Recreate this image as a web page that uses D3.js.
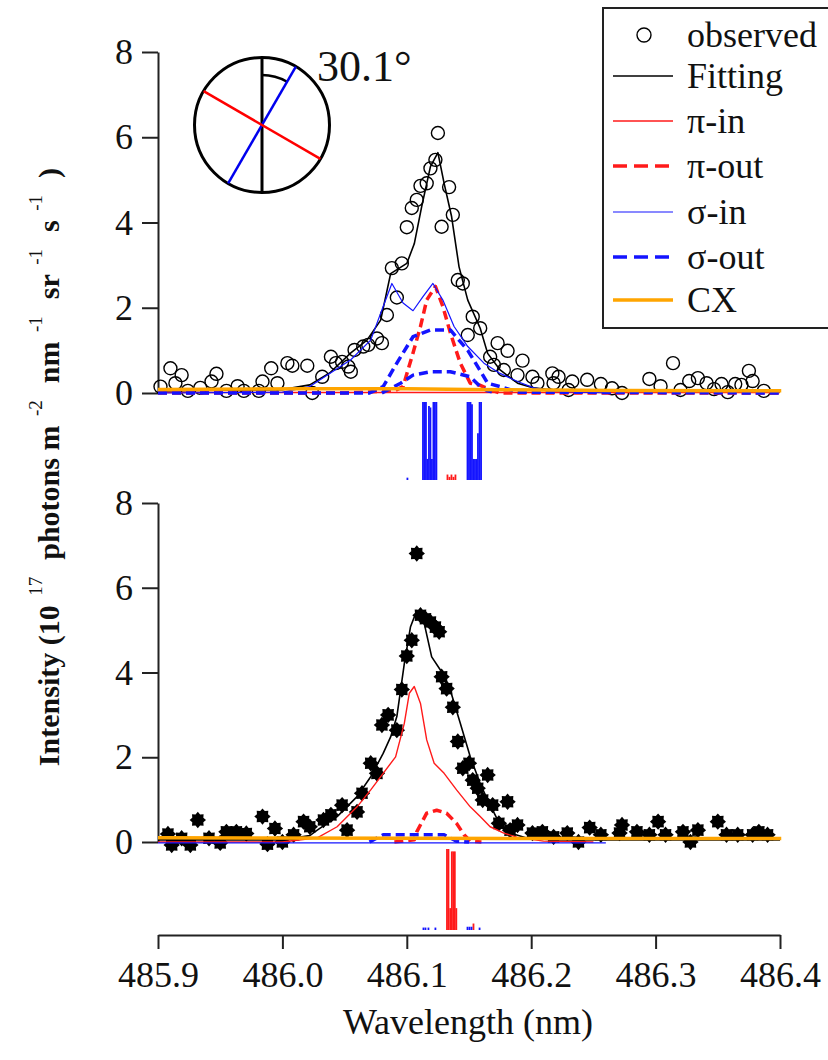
<!DOCTYPE html>
<html>
<head>
<meta charset="utf-8">
<script src="https://cdn.jsdelivr.net/npm/d3@7"></script>
<style>
  body { margin: 0; background: #fff; }
  svg { display: block; }
  text { font-family: "Liberation Serif", "Times New Roman", serif; fill: #111; }
</style>
</head>
<body>
<script>
// ---- data (wavelength nm, intensity 1e17) ----
var xTicks = [485.9, 486.0, 486.1, 486.2, 486.3, 486.4];
var yTicks = [0, 2, 4, 6, 8];
var legendLabels = ["observed", "Fitting", "π-in", "π-out", "σ-in", "σ-out", "CX"];
var angleLabel = "30.1°";
var angleDeg = 30.1;

// top panel observed
var topObsWl = [485.902,485.910,485.914,485.919,485.924,485.934,485.943,485.947,485.955,485.964,485.969,485.981,485.984,485.991,485.996,
  486.004,486.008,486.020,486.024,486.032,486.039,486.043,486.048,486.053,486.055,486.058,486.065,486.069,486.076,486.080,486.084,
  486.088,486.092,486.096,486.100,486.104,486.108,486.111,486.116,486.119,486.123,486.125,486.128,486.134,486.137,486.141,486.145,
  486.149,486.153,486.159,486.167,486.170,486.173,486.178,486.181,486.189,486.193,486.201,486.205,486.217,486.218,486.222,486.230,
  486.233,486.245,486.256,486.265,486.273,486.295,486.304,486.314,486.320,486.327,486.334,486.341,486.347,486.353,486.358,486.364,
  486.369,486.375,486.378,486.387];
var topObsVal = [0.15,0.58,0.23,0.42,0.05,0.12,0.27,0.45,0.05,0.16,0.05,0.05,0.27,0.58,0.23,
  0.70,0.64,0.64,0.00,0.38,0.85,0.70,0.73,0.62,0.50,1.01,1.09,1.13,1.28,1.17,1.83,
  2.93,2.24,3.04,3.89,4.34,4.53,4.86,4.92,5.27,5.47,6.10,3.90,4.83,4.18,2.65,2.57,
  1.36,1.79,1.52,0.85,0.66,1.17,0.54,0.99,0.42,0.76,0.38,0.23,0.46,0.23,0.38,0.07,
  0.27,0.31,0.21,0.11,0.00,0.33,0.16,0.70,0.07,0.28,0.35,0.23,0.09,0.21,0.02,0.21,
  0.19,0.52,0.28,0.05];

// top panel curves [wl, value]
var topFit = [[485.900,0.05],[486.000,0.08],[486.022,0.19],[486.038,0.47],[486.055,0.94],[486.068,1.24],[486.079,1.71],
  [486.087,2.80],[486.100,3.04],[486.106,3.50],[486.112,4.38],[486.119,5.31],[486.125,5.64],[486.130,4.92],[486.136,4.14],
  [486.142,2.96],[486.149,2.18],[486.159,1.52],[486.165,0.93],[486.175,0.54],[486.189,0.23],[486.202,0.12],[486.220,0.06],[486.400,0.05]];
var topPiIn = [[485.900,0.01],[486.400,0.01]];
var topPiOut = [[485.900,0.0],[486.050,0.0],[486.090,0.05],[486.097,0.15],[486.105,0.94],[486.111,1.56],[486.116,2.18],[486.123,2.50],
  [486.129,2.03],[486.135,1.41],[486.143,0.70],[486.151,0.23],[486.159,0.18],[486.165,0.10],[486.175,0.0],[486.400,0.0]];
var topSigmaIn = [[485.900,0.0],[486.000,0.02],[486.022,0.15],[486.055,0.78],[486.071,1.24],[486.081,2.03],[486.088,2.57],[486.097,2.11],
  [486.105,1.93],[486.113,2.26],[486.121,2.57],[486.129,2.18],[486.138,1.56],[486.149,1.09],[486.162,0.70],[486.175,0.46],
  [486.189,0.27],[486.202,0.12],[486.220,0.04],[486.264,0.0]];
var topSigmaOutA = [[485.900,0.0],[486.070,0.0],[486.081,0.15],[486.092,0.70],[486.105,1.32],[486.119,1.48],[486.135,1.48],[486.149,1.00],
  [486.157,0.62],[486.165,0.23],[486.175,0.15],[486.190,0.02],[486.400,0.0]];
var topSigmaOutB = [[486.080,0.0],[486.095,0.23],[486.105,0.42],[486.119,0.50],[486.135,0.50],[486.151,0.38],[486.159,0.15],[486.165,0.05],[486.172,0.0]];
var topCX = [[485.900,0.08],[486.020,0.10],[486.100,0.10],[486.150,0.08],[486.270,0.06],[486.401,0.05]];

// top stick spectrum [wl, rel. height]
var topSticksBlue = [[486.1005,0.03],[486.1130,1],[486.1142,1],[486.1154,1],[486.1166,0.27],[486.1178,0.95],[486.1190,0.93],[486.1202,0.27],
  [486.1214,1],[486.1226,1],[486.1238,1],[486.1488,1],[486.1500,1],[486.1512,1],[486.1524,0.97],[486.1536,0.27],[486.1548,0.27],
  [486.1560,0.27],[486.1572,0.6],[486.1585,1],[486.1597,1]];
var topSticksRed = [[486.1327,0.07],[486.1343,0.04],[486.1359,0.07],[486.1375,0.04],[486.1391,0.07]];

// bottom panel observed
var botObsWl = [485.908,485.911,485.919,485.926,485.932,485.941,485.950,485.955,485.963,485.971,485.984,485.988,485.994,486.000,486.009,
  486.017,486.022,486.033,486.039,486.048,486.052,486.060,486.064,486.071,486.076,486.080,486.085,486.092,486.096,486.100,486.104,
  486.108,486.111,486.115,486.119,486.123,486.126,486.128,486.132,486.137,486.141,486.145,486.150,486.153,486.157,486.161,486.165,
  486.169,486.174,486.181,486.183,486.189,486.201,486.209,486.218,486.229,486.238,486.247,486.256,486.271,486.273,486.285,486.295,
  486.302,486.308,486.322,486.328,486.334,486.350,486.357,486.366,486.378,486.383,486.390];
var botObsVal = [0.19,-0.07,0.09,-0.07,0.52,0.09,-0.02,0.24,0.24,0.20,0.60,-0.05,0.32,0.00,0.17,
  0.48,0.36,0.52,0.64,0.87,0.28,0.71,1.15,1.86,1.62,2.76,3.00,2.64,3.60,4.39,4.76,
  6.81,5.35,5.27,5.19,5.07,4.96,3.90,3.62,3.18,2.37,1.74,1.86,1.46,1.27,0.99,1.58,
  0.87,0.44,0.95,0.28,0.40,0.21,0.24,0.12,0.21,0.00,0.34,0.17,0.21,0.40,0.24,0.17,
  0.48,0.17,0.24,0.00,0.28,0.48,0.17,0.17,0.17,0.24,0.17];

// bottom panel curves
var botFit = [[485.900,0.05],[486.000,0.05],[486.022,0.15],[486.028,0.28],[486.044,0.60],[486.060,1.07],[486.071,1.54],[486.081,2.09],
  [486.087,2.48],[486.092,2.96],[486.098,4.21],[486.103,5.08],[486.108,5.46],[486.114,5.16],[486.120,4.37],[486.127,4.06],
  [486.135,3.58],[486.143,2.80],[486.151,2.01],[486.159,1.38],[486.165,0.99],[486.173,0.52],[486.183,0.21],[486.197,0.09],
  [486.220,0.05],[486.400,0.05]];
var botPiIn = [[485.900,0.0],[486.000,0.0],[486.028,0.10],[486.044,0.36],[486.060,0.83],[486.071,1.23],[486.081,1.62],[486.091,2.01],
  [486.098,2.80],[486.102,3.51],[486.106,3.67],[486.111,3.27],[486.116,2.41],[486.122,1.86],[486.130,1.62],[486.140,1.23],
  [486.151,0.83],[486.159,0.60],[486.167,0.36],[486.178,0.21],[486.189,0.11],[486.210,0.02],[486.250,0.0]];
var botPiOut = [[486.090,0.0],[486.106,0.05],[486.108,0.24],[486.116,0.68],[486.124,0.75],[486.132,0.68],[486.140,0.44],[486.146,0.17],[486.151,0.02],[486.160,0.0]];
var botSigmaIn = [[485.900,-0.02],[486.260,-0.02]];
var botSigmaOut = [[486.070,0.0],[486.081,0.17],[486.130,0.17],[486.140,0.02],[486.150,0.0]];
var botCX = [[485.900,0.10],[486.100,0.09],[486.250,0.08],[486.401,0.08]];

// bottom stick spectrum
var botSticksRed = [[486.1323,1],[486.1335,1],[486.1349,0.27],[486.1362,0.97],[486.1374,0.97],[486.1386,0.97],[486.1398,0.27],[486.1536,0.08]];
var botSticksBlue = [[486.1134,0.03],[486.1150,0.03],[486.1174,0.03],[486.1230,0.03],[486.1488,0.04],[486.1504,0.04],[486.1520,0.04],[486.1585,0.03]];

// ---- layout ----
var W = 828, H = 1060;
var svg = d3.select("body").append("svg").attr("width", W).attr("height", H);

var xScale = d3.scaleLinear().domain([485.9, 486.4]).range([158, 780]);
var yTop = d3.scaleLinear().domain([0, 8]).range([393, 52]);
var yBot = d3.scaleLinear().domain([0, 8]).range([842, 503]);
var stickTop = d3.scaleLinear().domain([0, 1]).range([480, 402]);
var stickBot = d3.scaleLinear().domain([0, 1]).range([930, 849]);

var styles = {
  fit:   { color: "#000", width: 1.6, dash: null },
  piIn:  { color: "#ff1a1a", width: 1.4, dash: null },
  piOut: { color: "#ff1a1a", width: 3.5, dash: "9,5" },
  sIn:   { color: "#1414ff", width: 1.2, dash: null },
  sOut:  { color: "#1414ff", width: 3.5, dash: "9,5" },
  cx:    { color: "#ffa500", width: 3.5, dash: null }
};

function drawCurve(g, data, y, st) {
  var line = d3.line().x(function(d) { return xScale(d[0]); }).y(function(d) { return y(d[1]); });
  g.append("path").datum(data)
    .attr("d", line)
    .attr("fill", "none")
    .attr("stroke", st.color)
    .attr("stroke-width", st.width)
    .attr("stroke-dasharray", st.dash)
    .attr("stroke-linejoin", "round");
}

function drawSticks(g, data, y, color) {
  g.selectAll(null).data(data).enter().append("line")
    .attr("x1", function(d) { return xScale(d[0]); })
    .attr("x2", function(d) { return xScale(d[0]); })
    .attr("y1", y(0))
    .attr("y2", function(d) { return y(d[1]); })
    .attr("stroke", color)
    .attr("stroke-width", 1.8);
}

function yAxis(y) {
  var g = svg.append("g").attr("transform", "translate(158,0)")
    .call(d3.axisLeft(y).tickValues(yTicks).tickSize(16).tickSizeOuter(0).tickPadding(9).tickFormat(d3.format("d")));
  g.select(".domain").attr("stroke", "#222").attr("stroke-width", 2);
  g.selectAll(".tick line").attr("stroke", "#222").attr("stroke-width", 2);
  g.selectAll(".tick text").attr("font-size", 36).attr("font-family", "Liberation Serif").attr("fill", "#111");
}

yAxis(yTop);
yAxis(yBot);

var xg = svg.append("g").attr("transform", "translate(0,935)")
  .call(d3.axisBottom(xScale).tickValues(xTicks).tickSize(14).tickSizeOuter(0).tickPadding(12).tickFormat(d3.format(".1f")));
xg.select(".domain").attr("stroke", "#222").attr("stroke-width", 2);
xg.selectAll(".tick line").attr("stroke", "#222").attr("stroke-width", 2);
xg.selectAll(".tick text").attr("font-size", 36).attr("font-family", "Liberation Serif").attr("fill", "#111");

// x label
svg.append("text").attr("x", 468).attr("y", 1034).attr("text-anchor", "middle")
  .attr("font-size", 36).text("Wavelength (nm)");

// y label with superscripts
var yl = svg.append("text").attr("transform", "translate(59,467) rotate(-90)")
  .attr("text-anchor", "middle").attr("font-size", 30).attr("font-weight", "bold");
var parts = [["Intensity (10", 0], ["17", 1], [" photons m", 0], ["-2", 1], [" nm", 0], ["-1", 1], [" sr", 0], ["-1", 1], [" s", 0], ["-1", 1], [" )", 0]];
var prevSup = 0;
parts.forEach(function(p) {
  var t = yl.append("tspan").text(p[1] ? "\u2002" + p[0] + "\u2002" : p[0]);
  if (p[1]) t.attr("font-size", 19).attr("font-weight", "normal").attr("dy", "-0.9em");
  else if (prevSup) t.attr("dy", "0.57em");
  prevSup = p[1];
});

// top panel
var topG = svg.append("g");
topG.selectAll(null).data(topObsWl).enter().append("circle")
  .attr("cx", function(d) { return xScale(d); })
  .attr("cy", function(d, i) { return yTop(topObsVal[i]); })
  .attr("r", 6.5).attr("fill", "none").attr("stroke", "#000").attr("stroke-width", 1.4);
drawCurve(topG, topFit, yTop, styles.fit);
drawCurve(topG, topPiIn, yTop, styles.piIn);
drawCurve(topG, topPiOut, yTop, styles.piOut);
drawCurve(topG, topSigmaIn, yTop, styles.sIn);
drawCurve(topG, topSigmaOutA, yTop, styles.sOut);
drawCurve(topG, topSigmaOutB, yTop, styles.sOut);
drawCurve(topG, topCX, yTop, styles.cx);
drawSticks(topG, topSticksBlue, stickTop, "#1414ff");
drawSticks(topG, topSticksRed, stickTop, "#ff1a1a");

// bottom panel
var botG = svg.append("g");
var star = [];
for (var k = 0; k < 16; k++) {
  var rr = k % 2 ? 6 : 8.2;
  var a = k * Math.PI / 8;
  star.push([rr * Math.sin(a), -rr * Math.cos(a)]);
}
var starPath = "M" + star.join("L") + "Z";
botG.selectAll(null).data(botObsWl).enter().append("path")
  .attr("d", starPath)
  .attr("transform", function(d, i) { return "translate(" + xScale(d) + "," + yBot(botObsVal[i]) + ")"; })
  .attr("fill", "#000");
drawCurve(botG, botFit, yBot, styles.fit);
drawCurve(botG, botPiIn, yBot, styles.piIn);
drawCurve(botG, botPiOut, yBot, styles.piOut);
drawCurve(botG, botSigmaIn, yBot, styles.sIn);
drawCurve(botG, botSigmaOut, yBot, styles.sOut);
drawCurve(botG, botCX, yBot, styles.cx);
drawSticks(botG, botSticksRed, stickBot, "#ff1a1a");
drawSticks(botG, botSticksBlue, stickBot, "#1414ff");

// inset: polarisation angle circle
var R = 67.5;
var inset = svg.append("g").attr("transform", "translate(262,125)");
var th = angleDeg * Math.PI / 180;
inset.append("circle").attr("r", R).attr("fill", "none").attr("stroke", "#000").attr("stroke-width", 3);
inset.append("line").attr("x1", 0).attr("y1", -R).attr("x2", 0).attr("y2", R).attr("stroke", "#000").attr("stroke-width", 3);
inset.append("path")
  .attr("d", d3.arc().innerRadius(50).outerRadius(50).startAngle(0).endAngle(th)())
  .attr("fill", "none").attr("stroke", "#000").attr("stroke-width", 2.5);
inset.append("line")
  .attr("x1", R * Math.sin(th)).attr("y1", -R * Math.cos(th))
  .attr("x2", -R * Math.sin(th)).attr("y2", R * Math.cos(th))
  .attr("stroke", "#0000ee").attr("stroke-width", 2.5);
inset.append("line")
  .attr("x1", R * Math.sin(th + Math.PI / 2)).attr("y1", -R * Math.cos(th + Math.PI / 2))
  .attr("x2", -R * Math.sin(th + Math.PI / 2)).attr("y2", R * Math.cos(th + Math.PI / 2))
  .attr("stroke", "#ff0000").attr("stroke-width", 2.5);
svg.append("text").attr("x", 317).attr("y", 81)
  .attr("font-family", "Liberation Sans, Arial, sans-serif").attr("font-size", 44).text(angleLabel);

// legend
var lg = svg.append("g");
lg.append("rect").attr("x", 603).attr("y", 8).attr("width", 240).attr("height", 320)
  .attr("fill", "#fff").attr("stroke", "#222").attr("stroke-width", 2);
var rowY = [35, 76, 121, 166, 212, 257, 300];
var legStyles = [null, styles.fit, styles.piIn, styles.piOut, styles.sIn, styles.sOut, styles.cx];
legendLabels.forEach(function(lab, i) {
  if (i === 0) {
    lg.append("circle").attr("cx", 644).attr("cy", rowY[i]).attr("r", 7)
      .attr("fill", "none").attr("stroke", "#000").attr("stroke-width", 1.4);
  } else {
    var st = legStyles[i];
    lg.append("line").attr("x1", 613).attr("x2", 673).attr("y1", rowY[i]).attr("y2", rowY[i])
      .attr("stroke", st.color).attr("stroke-width", st.width)
      .attr("stroke-dasharray", st.dash ? "14,7" : null);
  }
  lg.append("text").attr("x", 687).attr("y", rowY[i]).attr("dy", "0.33em")
    .attr("font-size", 36).text(lab);
});
</script>
</body>
</html>
